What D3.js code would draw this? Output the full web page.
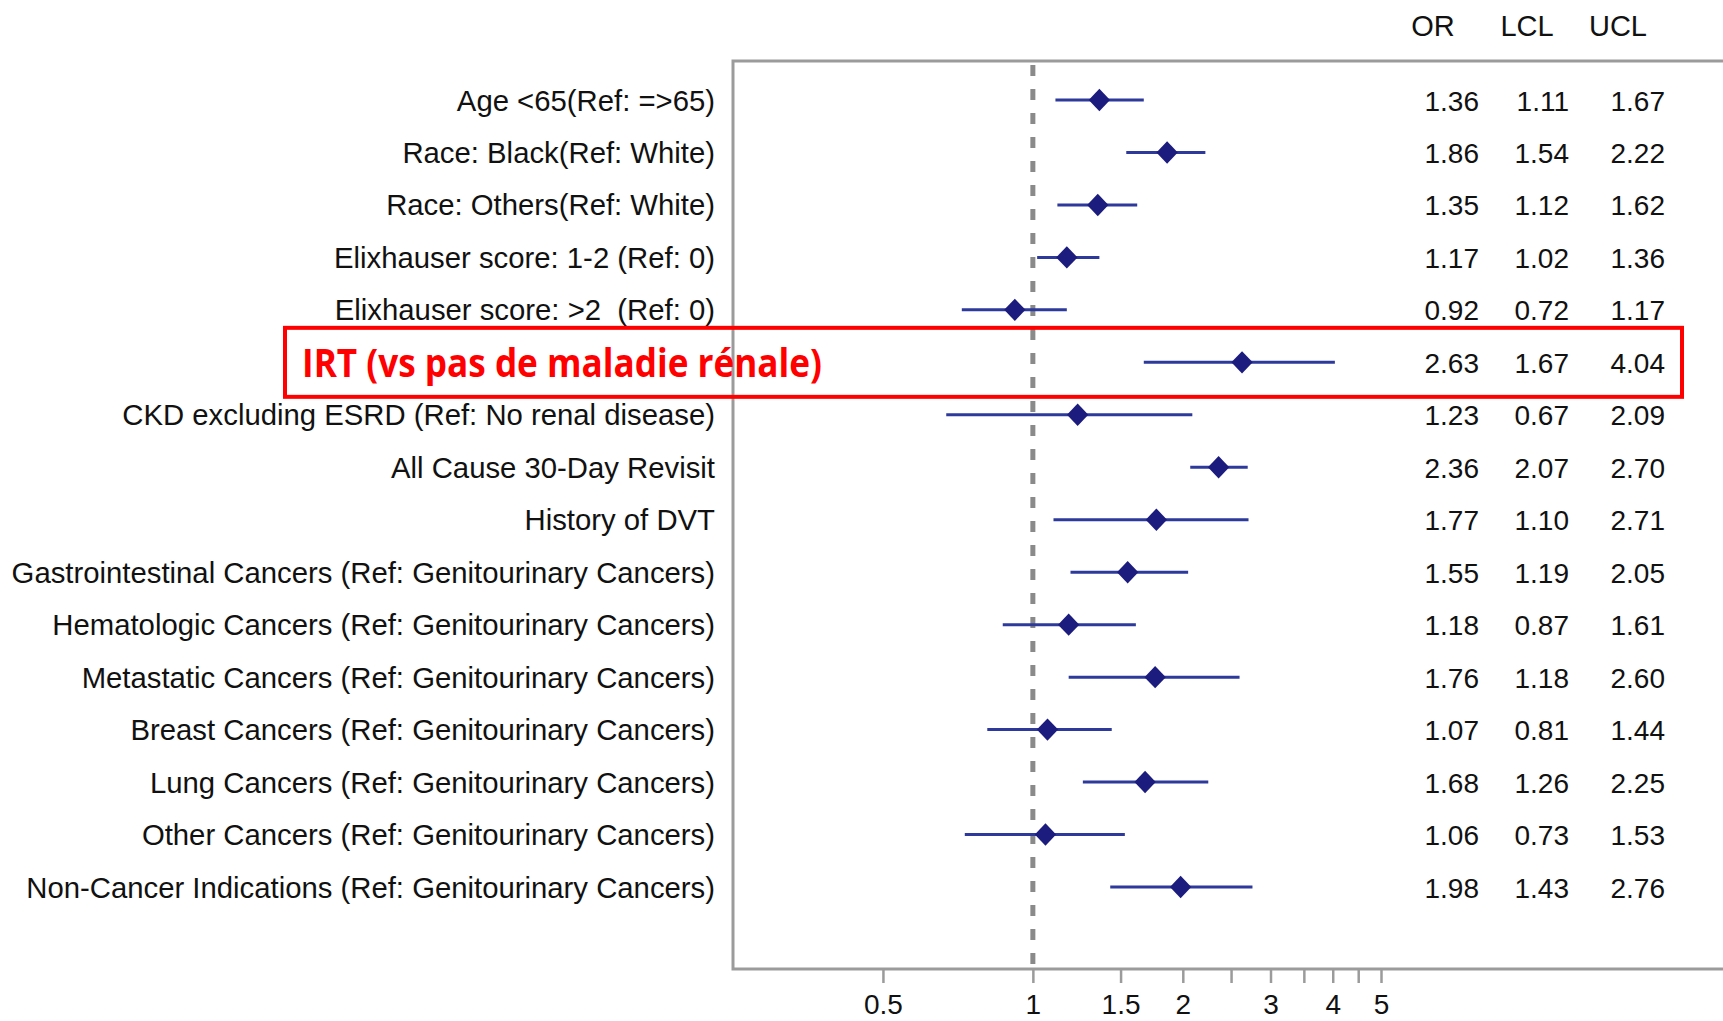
<!DOCTYPE html>
<html>
<head>
<meta charset="utf-8">
<script src="https://cdn.jsdelivr.net/npm/d3@7"></script>
<style>
  html, body { margin: 0; padding: 0; background: #fff; }
  svg { display: block; }
  text { font-family: "Liberation Sans", Arial, sans-serif; white-space: pre; }
</style>
</head>
<body>
<svg id="chart" width="1723" height="1021"></svg>
<script>
// ---- data ----
const labels = [
  "Age <65(Ref: =>65)",
  "Race: Black(Ref: White)",
  "Race: Others(Ref: White)",
  "Elixhauser score: 1-2 (Ref: 0)",
  "Elixhauser score: >2  (Ref: 0)",
  "IRT (vs pas de maladie rénale)",
  "CKD excluding ESRD (Ref: No renal disease)",
  "All Cause 30-Day Revisit",
  "History of DVT",
  "Gastrointestinal Cancers (Ref: Genitourinary Cancers)",
  "Hematologic Cancers (Ref: Genitourinary Cancers)",
  "Metastatic Cancers (Ref: Genitourinary Cancers)",
  "Breast Cancers (Ref: Genitourinary Cancers)",
  "Lung Cancers (Ref: Genitourinary Cancers)",
  "Other Cancers (Ref: Genitourinary Cancers)",
  "Non-Cancer Indications (Ref: Genitourinary Cancers)"
];
const orValues  = [1.36, 1.86, 1.35, 1.17, 0.92, 2.63, 1.23, 2.36, 1.77, 1.55, 1.18, 1.76, 1.07, 1.68, 1.06, 1.98];
const lclValues = [1.11, 1.54, 1.12, 1.02, 0.72, 1.67, 0.67, 2.07, 1.10, 1.19, 0.87, 1.18, 0.81, 1.26, 0.73, 1.43];
const uclValues = [1.67, 2.22, 1.62, 1.36, 1.17, 4.04, 2.09, 2.70, 2.71, 2.05, 1.61, 2.60, 1.44, 2.25, 1.53, 2.76];
const highlightIndex = 5;
const columnHeaders = ["OR", "LCL", "UCL"];
const tickValues = [0.5, 1, 1.5, 2, 2.5, 3, 3.5, 4, 4.5, 5];
const tickLabels = ["0.5", "1", "1.5", "2", "", "3", "", "4", "", "5"];
const refValue = 1;

// ---- layout ----
const svg = d3.select("#chart");
const frame = { left: 733, top: 61, bottom: 969, right: 1760 };
const x = d3.scaleLog().domain([0.25, 5]).range([733, 1381]);
const rows = d3.range(labels.length);
const y = d3.scalePoint().domain(rows).range([100, 887]);

const rowData = rows.map(i => ({
  i, label: labels[i], or: orValues[i], lcl: lclValues[i], ucl: uclValues[i]
}));

// frame
svg.append("path")
  .attr("d", `M${frame.right},${frame.top}H${frame.left}V${frame.bottom}H${frame.right}`)
  .attr("fill", "none")
  .attr("stroke", "#9b9b9b")
  .attr("stroke-width", 3);

// reference line
svg.append("line")
  .attr("x1", x(refValue)).attr("x2", x(refValue))
  .attr("y1", frame.top + 4).attr("y2", frame.bottom)
  .attr("stroke", "#8a8a8a")
  .attr("stroke-width", 5)
  .attr("stroke-dasharray", "11,13");

// axis
const axis = d3.axisBottom(x)
  .tickValues(tickValues)
  .tickFormat((d, i) => tickLabels[i])
  .tickSize(14)
  .tickPadding(14);
const gAxis = svg.append("g")
  .attr("transform", `translate(0,${frame.bottom})`)
  .call(axis);
gAxis.select(".domain").remove();
gAxis.selectAll(".tick line").attr("stroke", "#9b9b9b").attr("stroke-width", 2.5);
gAxis.selectAll(".tick text")
  .attr("fill", "#111")
  .style("font-size", "28px")
  .style("font-family", "'Liberation Sans', Arial, sans-serif")
  .attr("dy", null)
  .attr("y", 45);

// whiskers
svg.append("g").selectAll("line")
  .data(rowData)
  .join("line")
  .attr("x1", d => x(d.lcl))
  .attr("x2", d => x(d.ucl))
  .attr("y1", d => y(d.i))
  .attr("y2", d => y(d.i))
  .attr("stroke", "#2d3a9c")
  .attr("stroke-width", 3);

// diamonds
const diamond = d3.symbol().type(d3.symbolDiamond2).size(290);
svg.append("g").selectAll("path")
  .data(rowData)
  .join("path")
  .attr("d", diamond)
  .attr("transform", d => `translate(${x(d.or)},${y(d.i)}) scale(1,1.05)`)
  .attr("fill", "#1b1c7e");

// row labels (except highlighted one)
svg.append("g").selectAll("text")
  .data(rowData.filter(d => d.i !== highlightIndex))
  .join("text")
  .attr("x", 715)
  .attr("y", d => y(d.i) + 10.5)
  .attr("text-anchor", "end")
  .attr("fill", "#111")
  .style("font-size", "29.3px")
  .text(d => d.label);

// value columns
const colRight = [1479, 1569, 1665];
const colValues = [orValues, lclValues, uclValues];
colValues.forEach((vals, c) => {
  svg.append("g").selectAll("text")
    .data(rowData)
    .join("text")
    .attr("x", colRight[c])
    .attr("y", d => y(d.i) + 10.5)
    .attr("text-anchor", "end")
    .attr("fill", "#111")
    .style("font-size", "28px")
    .text(d => vals[d.i].toFixed(2));
});

// column headers
const headerX = [1433, 1527, 1618];
svg.append("g").selectAll("text")
  .data(columnHeaders)
  .join("text")
  .attr("x", (d, i) => headerX[i])
  .attr("y", 36)
  .attr("text-anchor", "middle")
  .attr("fill", "#111")
  .style("font-size", "29px")
  .text(d => d);

// highlight box
const hy = y(highlightIndex);
svg.append("rect")
  .attr("x", 285)
  .attr("y", hy - 34.5)
  .attr("width", 1682 - 285)
  .attr("height", 69)
  .attr("fill", "none")
  .attr("stroke", "#ff0000")
  .attr("stroke-width", 4);

svg.append("text")
  .attr("x", 302)
  .attr("y", hy + 14.5)
  .attr("fill", "#ff0000")
  .attr("textLength", 520)
  .attr("lengthAdjust", "spacingAndGlyphs")
  .style("font-family", "'Open Sans', Lato, sans-serif")
  .style("font-weight", "bold")
  .style("font-size", "39px")
  .text(labels[highlightIndex]);
</script>
</body>
</html>
